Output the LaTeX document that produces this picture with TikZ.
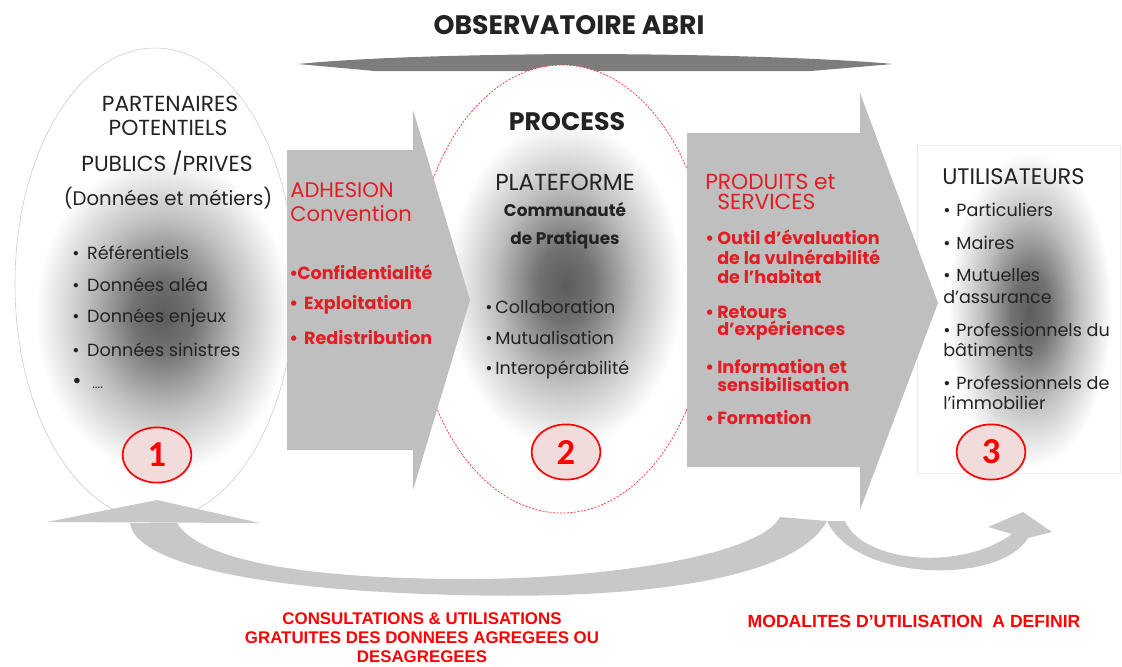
\documentclass[tikz,border=0pt]{standalone}
\usepackage{fontspec}
\setmainfont{Poppins}
\newfontfamily\numfont{Carlito}
\newfontfamily\capfont{Liberation Sans}
\usepackage{tikz}
\usetikzlibrary{shapes.geometric}
\definecolor{abrired}{RGB}{226,30,36}
\definecolor{arrowgray}{RGB}{191,191,191}
\definecolor{bargray}{RGB}{125,125,125}
\definecolor{loopgray}{RGB}{200,200,200}
\definecolor{numpink}{RGB}{242,220,219}
\definecolor{inkgray}{RGB}{35,35,35}
\newcommand{\bul}[1]{\makebox[#1][l]{\textbullet}}
\pgfdeclareradialshading{glow}{\pgfpoint{0bp}{0bp}}{color(0bp)=(black!64); color(6bp)=(black!55); color(15bp)=(black!25); color(25bp)=(white); color(50bp)=(white)}

\begin{document}
\begin{tikzpicture}[x=0.025cm, y=-0.025cm,
  blacktxt/.style={text=inkgray, inner sep=0pt},
  redtxt/.style={text=abrired, inner sep=0pt},
  numbox/.style={ellipse, draw=red, line width=1.2pt, fill=numpink, minimum width=1.72cm, minimum height=1.38cm, inner sep=0pt, text=red, font=\numfont\bfseries\fontsize{26}{26}\selectfont}]

\useasboundingbox (0,0) rectangle (1122,666);

% ==========================================
% TITLE AND TOP BAR
% ==========================================
\node[blacktxt, font=\bfseries\fontsize{19}{19}\selectfont] (title) at (569,25) {OBSERVATOIRE ABRI};
\fill[bargray] (298,64) .. controls (360,58) and (450,55) .. (570,54) .. controls (720,54) and (840,59) .. (893,64) -- (811,71) -- (375,71) -- cycle;

% ==========================================
% PANELS: partners, platform, users
% ==========================================
% Partners (1)
\draw[gray!40, fill=white] (155,284) ellipse [x radius=140, y radius=236];
\shade[shading=glow] (163,315) ellipse [x radius=128, y radius=160];

% Platform (2)
\fill[white] (562,289) ellipse [x radius=148, y radius=224];
\shade[shading=glow] (565,285) ellipse [x radius=118, y radius=165];
\draw[red!80, line width=0.5pt, dash pattern=on 1.5pt off 1pt] (562,289) ellipse [x radius=148, y radius=224];

% Users (3)
\draw[gray!15, fill=white] (917,145) rectangle (1120,473);
\shade[shading=glow] (1030,310) ellipse [x radius=82, y radius=158];

% Flow arrows
\fill[arrowgray] (287,150) -- (413,150) -- (413,110) -- (470,300) -- (413,490) -- (413,450) -- (287,450) -- cycle;
\fill[arrowgray] (687,133) -- (860,133) -- (860,93) -- (938,303) -- (860,510) -- (860,467) -- (687,467) -- cycle;

% Return loops
\fill[loopgray] (130,523) .. controls (135,562) and (250,590) .. (457,595) .. controls (640,600) and (795,580) .. (827,521) -- (780,517) .. controls (760,556) and (600,580) .. (457,579) .. controls (300,578) and (200,560) .. (177,523) -- cycle;
\fill[loopgray] (47,522) -- (157,500) -- (260,523) -- cycle;
\fill[loopgray] (827,521) -- (845,521) .. controls (862,562) and (960,572) .. (1012,534) -- (988,527) -- (1023,512) -- (1052,532) -- (1028,538) .. controls (1000,585) and (855,582) .. (827,521) -- cycle;

% Numbers
\node[numbox] (one) at (157,455) {1};
\node[numbox] (two) at (566,452) {2};
\node[numbox] (three) at (991,452) {3};

% ==========================================
% TEXTS
% ==========================================
% Partners
\node[blacktxt, font=\fontsize{15.5}{15.5}\selectfont] (partA) at (170,104) {PARTENAIRES};
\node[blacktxt, font=\fontsize{15.5}{15.5}\selectfont] (partB) at (168,128) {POTENTIELS};
\node[blacktxt, font=\fontsize{15.5}{15.5}\selectfont] (pub) at (167,163) {PUBLICS /PRIVES};
\node[blacktxt, font=\fontsize{14}{14}\selectfont] (metiers) at (168,198) {(Données et métiers)};
\node[blacktxt, anchor=west, font=\fontsize{12.5}{12.5}\selectfont] (ref) at (72,253) {\bul{0.37cm}Référentiels};
\node[blacktxt, anchor=west, font=\fontsize{12.5}{12.5}\selectfont] (alea) at (72,285) {\bul{0.37cm}Données aléa};
\node[blacktxt, anchor=west, font=\fontsize{12.5}{12.5}\selectfont] (enjeux) at (72,318) {\bul{0.37cm}Données enjeux};
\node[blacktxt, anchor=west, font=\fontsize{12.5}{12.5}\selectfont] (sinistres) at (72,350) {\bul{0.37cm}Données sinistres};
\node[blacktxt, anchor=west, font=\fontsize{12.5}{12.5}\selectfont] (etc) at (72,383) {\makebox[0.5cm][l]{\fontsize{16}{16}\selectfont\textbullet}{\fontsize{9}{9}\selectfont ....}};

% Adhesion arrow
\node[redtxt, anchor=west, font=\fontsize{15}{15}\selectfont] (adh) at (290,190) {ADHESION};
\node[redtxt, anchor=west, font=\fontsize{15}{15}\selectfont] (conv) at (290,214) {Convention};
\node[redtxt, anchor=west, font=\bfseries\fontsize{12.5}{12.5}\selectfont] (conf) at (289,272) {\bul{0.2cm}Confidentialité};
\node[redtxt, anchor=west, font=\bfseries\fontsize{12.5}{12.5}\selectfont] (expl) at (289,305) {\bul{0.37cm}Exploitation};
\node[redtxt, anchor=west, font=\bfseries\fontsize{12.5}{12.5}\selectfont] (redis) at (289,338) {\bul{0.37cm}Redistribution};

% Platform
\node[blacktxt, font=\bfseries\fontsize{18}{18}\selectfont] (process) at (567,122) {PROCESS};
\node[blacktxt, font=\fontsize{16.5}{16.5}\selectfont] (plat) at (565,182) {PLATEFORME};
\node[blacktxt, font=\bfseries\fontsize{12}{12}\selectfont] (comm) at (565,210) {Communauté};
\node[blacktxt, font=\bfseries\fontsize{12}{12}\selectfont] (prat) at (565,240) {de Pratiques};
\node[blacktxt, anchor=west, font=\fontsize{12.5}{12.5}\selectfont] (collab) at (485,307) {\bul{0.25cm}Collaboration};
\node[blacktxt, anchor=west, font=\fontsize{12.5}{12.5}\selectfont] (mutu) at (485,338) {\bul{0.25cm}Mutualisation};
\node[blacktxt, anchor=west, font=\fontsize{12.5}{12.5}\selectfont] (inter) at (485,370) {\bul{0.25cm}Interopérabilité};

% Products arrow
\node[redtxt, anchor=west, font=\fontsize{15.5}{15.5}\selectfont] (prod) at (705,182) {PRODUITS et};
\node[redtxt, anchor=west, font=\fontsize{15.5}{15.5}\selectfont] (serv) at (717,202) {SERVICES};
\node[redtxt, anchor=west, font=\bfseries\fontsize{12.5}{12.5}\selectfont] (outil) at (705,237) {\bul{0.3cm}Outil d’évaluation};
\node[redtxt, anchor=west, font=\bfseries\fontsize{12.5}{12.5}\selectfont] (vuln) at (717,257) {de la vulnérabilité};
\node[redtxt, anchor=west, font=\bfseries\fontsize{12.5}{12.5}\selectfont] (habi) at (717,277) {de l’habitat};
\node[redtxt, anchor=west, font=\bfseries\fontsize{12.5}{12.5}\selectfont] (ret) at (705,312) {\bul{0.3cm}Retours};
\node[redtxt, anchor=west, font=\bfseries\fontsize{12.5}{12.5}\selectfont] (exper) at (717,330) {d’expériences};
\node[redtxt, anchor=west, font=\bfseries\fontsize{12.5}{12.5}\selectfont] (info) at (705,367) {\bul{0.3cm}Information et};
\node[redtxt, anchor=west, font=\bfseries\fontsize{12.5}{12.5}\selectfont] (sensi) at (717,385) {sensibilisation};
\node[redtxt, anchor=west, font=\bfseries\fontsize{12.5}{12.5}\selectfont] (form) at (705,418) {\bul{0.3cm}Formation};

% Users
\node[blacktxt, anchor=west, font=\fontsize{16}{16}\selectfont] (users) at (942,177) {UTILISATEURS};
\node[blacktxt, anchor=west, font=\fontsize{12.5}{12.5}\selectfont] (part) at (943,210) {\bul{0.33cm}Particuliers};
\node[blacktxt, anchor=west, font=\fontsize{12.5}{12.5}\selectfont] (maires) at (943,243) {\bul{0.33cm}Maires};
\node[blacktxt, anchor=west, font=\fontsize{12.5}{12.5}\selectfont] (mutA) at (943,275) {\bul{0.33cm}Mutuelles};
\node[blacktxt, anchor=west, font=\fontsize{12.5}{12.5}\selectfont] (mutB) at (943,297) {d’assurance};
\node[blacktxt, anchor=west, font=\fontsize{12.5}{12.5}\selectfont] (batA) at (943,330) {\bul{0.33cm}Professionnels du};
\node[blacktxt, anchor=west, font=\fontsize{12.5}{12.5}\selectfont] (batB) at (943,350) {bâtiments};
\node[blacktxt, anchor=west, font=\fontsize{12.5}{12.5}\selectfont] (immA) at (943,383) {\bul{0.33cm}Professionnels de};
\node[blacktxt, anchor=west, font=\fontsize{12.5}{12.5}\selectfont] (immB) at (943,403) {l’immobilier};

% Bottom captions
\node[text=red, inner sep=0pt, align=center, font=\capfont\bfseries\fontsize{12}{13.5}\selectfont, anchor=north] (consult) at (422,612) {CONSULTATIONS \& UTILISATIONS\\GRATUITES DES DONNEES AGREGEES OU\\DESAGREGEES};
\node[text=red, inner sep=0pt, font=\capfont\bfseries\fontsize{12.5}{12.5}\selectfont] (modal) at (914,621) {MODALITES D’UTILISATION\ \ A DEFINIR};

\end{tikzpicture}
\end{document}
